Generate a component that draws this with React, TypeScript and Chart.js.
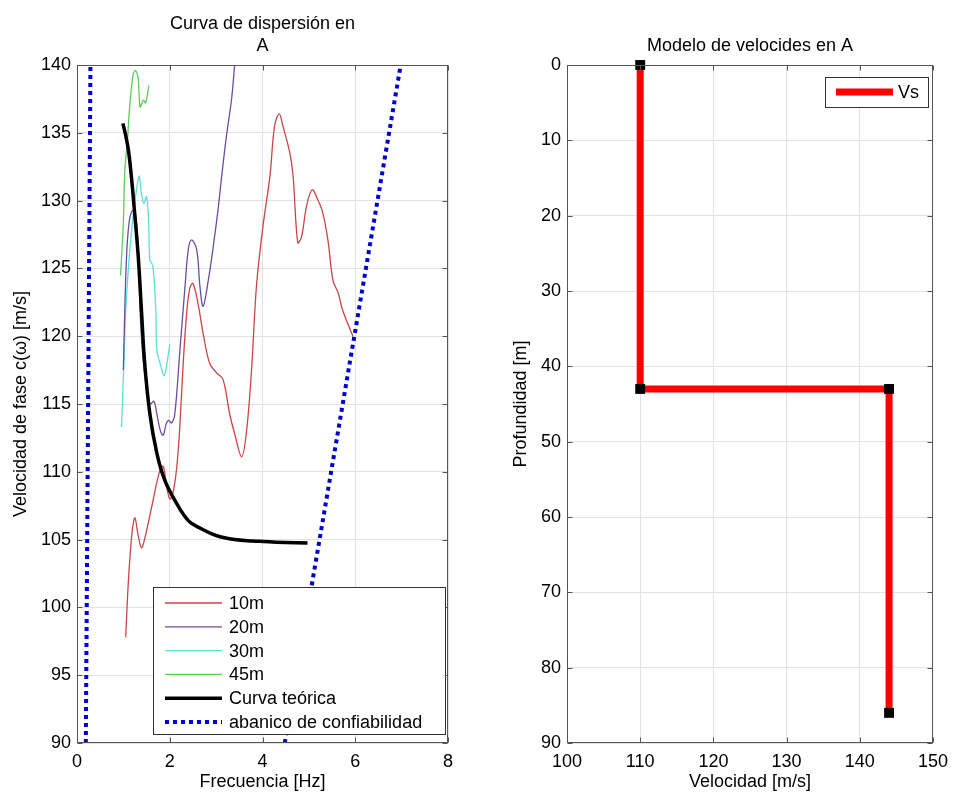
import React, { useEffect, useRef } from "react";
import { Chart, registerables } from "chart.js";

Chart.register(...registerables);

const FONT_FAMILY = '"Liberation Sans", Arial, Helvetica, sans-serif';
const FS = 18;

// ---------- Left chart: dispersion curves ----------
const freqTicks = [0, 2, 4, 6, 8];
const velTicks = [90, 95, 100, 105, 110, 115, 120, 125, 130, 135, 140];

const f10 = [1.05, 1.09, 1.14, 1.2, 1.25, 1.31, 1.39, 1.47, 1.56, 1.64, 1.72, 1.79, 1.86, 1.93, 2.0, 2.06, 2.15, 2.22, 2.29, 2.36, 2.43, 2.5, 2.61, 2.72, 2.86, 3.01, 3.15, 3.29, 3.4, 3.55, 3.65, 3.76, 3.87, 4.01, 4.16, 4.26, 4.36, 4.44, 4.59, 4.66, 4.76, 4.84, 4.95, 5.07, 5.2, 5.3, 5.41, 5.52, 5.63, 5.73, 5.95];
const c10 = [97.8, 100.8, 103.6, 105.9, 106.6, 105.5, 104.4, 105.2, 106.6, 107.9, 109.2, 110.1, 110.4, 109.0, 108.0, 108.3, 110.3, 113.5, 118.0, 121.5, 123.5, 123.9, 122.4, 120.2, 118.0, 117.3, 116.8, 114.3, 112.8, 111.1, 112.8, 117.3, 123.7, 128.1, 131.8, 135.5, 136.4, 135.5, 133.5, 131.8, 126.9, 127.3, 129.6, 130.8, 130.0, 129.1, 127.1, 124.1, 123.2, 121.9, 120.0];

const f20 = [1.0, 1.03, 1.07, 1.12, 1.18, 1.25, 1.32, 1.36, 1.42, 1.5, 1.58, 1.66, 1.72, 1.8, 1.86, 1.92, 1.97, 2.04, 2.11, 2.22, 2.33, 2.4, 2.47, 2.58, 2.65, 2.72, 2.83, 2.93, 3.04, 3.12, 3.22, 3.33, 3.4];
const c20 = [117.5, 121.9, 126.0, 128.3, 129.2, 129.3, 126.4, 121.9, 118.5, 116.2, 115.0, 115.2, 114.3, 113.0, 112.7, 113.5, 113.8, 113.6, 114.3, 119.0, 123.7, 126.4, 127.1, 126.4, 123.7, 122.2, 124.1, 126.4, 129.3, 131.8, 134.7, 137.4, 140.0];

const f30 = [0.96, 1.0, 1.03, 1.05, 1.14, 1.25, 1.34, 1.39, 1.44, 1.5, 1.54, 1.57, 1.61, 1.64, 1.7, 1.72, 1.79, 1.88, 1.95, 2.0];
const c30 = [113.3, 117.0, 120.0, 121.9, 126.4, 130.0, 131.8, 130.5, 129.8, 130.3, 128.8, 125.6, 125.4, 125.1, 121.9, 119.0, 118.0, 117.1, 118.2, 119.4];

const f45 = [0.94, 1.0, 1.03, 1.09, 1.14, 1.21, 1.26, 1.32, 1.36, 1.43, 1.48, 1.55];
const c45 = [124.5, 128.4, 132.1, 134.6, 137.1, 139.3, 139.6, 139.0, 136.9, 137.4, 137.2, 138.5];

const fTeo = [0.99, 1.05, 1.11, 1.18, 1.25, 1.32, 1.39, 1.46, 1.57, 1.72, 1.89, 2.11, 2.4, 2.68, 3.0, 3.4, 3.8, 4.3, 4.97];
const cTeo = [135.7, 134.8, 133.7, 131.5, 128.8, 125.9, 121.9, 118.0, 114.3, 111.4, 109.4, 107.9, 106.4, 105.8, 105.3, 105.0, 104.9, 104.8, 104.75];

const fConfLow = [0.19, 0.29];
const cConfLow = [90, 140];
const fConfHigh = [4.48, 6.98];
const cConfHigh = [90, 140];

// ---------- Right chart: velocity model ----------
const velModelTicks = [100, 110, 120, 130, 140, 150];
const depthTicks = [0, 10, 20, 30, 40, 50, 60, 70, 80, 90];
const vsVel = [110, 110, 144, 144];
const vsDepth = [0, 43, 43, 86];

const pts = (xs: number[], ys: number[]) => xs.map((x, i) => ({ x, y: ys[i] }));
const font = { family: FONT_FAMILY, size: FS };
const GRID = "#e3e3e3";

function framePlugin() {
  return {
    id: "matFrame",
    afterDatasetsDraw(chart: any) {
      const { ctx, chartArea: a, scales } = chart;
      ctx.save();
      ctx.strokeStyle = "#555";
      ctx.lineWidth = 1;
      const L = Math.round(a.left) + 0.5, R = Math.round(a.right) - 0.5;
      const T = Math.round(a.top) + 0.5, B = Math.round(a.bottom) - 0.5;
      ctx.strokeRect(L, T, R - L, B - T);
      const len = 5;
      ctx.beginPath();
      scales.x.ticks.forEach((t: any) => {
        const px = Math.round(scales.x.getPixelForValue(t.value)) + 0.5;
        ctx.moveTo(px, B); ctx.lineTo(px, B - len);
        ctx.moveTo(px, T); ctx.lineTo(px, T + len);
      });
      scales.y.ticks.forEach((t: any) => {
        const py = Math.round(scales.y.getPixelForValue(t.value)) + 0.5;
        ctx.moveTo(L, py); ctx.lineTo(L + len, py);
        ctx.moveTo(R, py); ctx.lineTo(R - len, py);
      });
      ctx.stroke();
      ctx.restore();
    },
  };
}

function titlePlugin(lines: string[], baselines: number[]) {
  return {
    id: "matTitle",
    afterDraw(chart: any) {
      const { ctx, chartArea: a } = chart;
      ctx.save();
      ctx.font = `${FS}px ${FONT_FAMILY}`;
      ctx.fillStyle = "#000";
      ctx.textAlign = "center";
      ctx.textBaseline = "alphabetic";
      const cx = (a.left + a.right) / 2;
      lines.forEach((l, i) => ctx.fillText(l, cx, baselines[i]));
      ctx.restore();
    },
  };
}

function legendPlugin(box: { x: number; y: number; w: number; h: number }, lineX0: number, lineX1: number, textX: number, rowY0: number, rowStep: number) {
  return {
    id: "matLegend",
    afterDraw(chart: any) {
      const { ctx } = chart;
      ctx.save();
      ctx.fillStyle = "#fff";
      ctx.fillRect(box.x, box.y, box.w, box.h);
      ctx.strokeStyle = "#333";
      ctx.lineWidth = 1;
      ctx.strokeRect(box.x + 0.5, box.y + 0.5, box.w, box.h);
      const seen: string[] = [];
      let row = 0;
      chart.data.datasets.forEach((ds: any) => {
        if (seen.includes(ds.label)) return;
        seen.push(ds.label);
        const y = rowY0 + row * rowStep;
        ctx.beginPath();
        ctx.strokeStyle = ds.borderColor;
        ctx.lineWidth = ds.borderWidth;
        ctx.setLineDash(ds.borderDash || []);
        ctx.moveTo(lineX0, y);
        ctx.lineTo(lineX1, y);
        ctx.stroke();
        ctx.setLineDash([]);
        ctx.fillStyle = "#000";
        ctx.font = `${FS}px ${FONT_FAMILY}`;
        ctx.textAlign = "left";
        ctx.textBaseline = "middle";
        ctx.fillText(ds.label, textX, y + 1);
        row++;
      });
      ctx.restore();
    },
  };
}

function DispersionChart() {
  const ref = useRef<HTMLCanvasElement>(null);
  useEffect(() => {
    const line = { showLine: true, pointRadius: 0, fill: false };
    const chart = new Chart(ref.current as HTMLCanvasElement, {
      type: "scatter",
      data: {
        datasets: [
          { ...line, label: "10m", data: pts(f10, c10), borderColor: "#c84646", borderWidth: 1.3, tension: 0.35, order: 3 },
          { ...line, label: "20m", data: pts(f20, c20), borderColor: "#6a4f9e", borderWidth: 1.3, tension: 0.35, order: 3 },
          { ...line, label: "30m", data: pts(f30, c30), borderColor: "#5cdede", borderWidth: 1.3, tension: 0.3, order: 3 },
          { ...line, label: "45m", data: pts(f45, c45), borderColor: "#5ccc5c", borderWidth: 1.3, tension: 0.3, order: 3 },
          { ...line, label: "Curva teórica", data: pts(fTeo, cTeo), borderColor: "#000", borderWidth: 3.5, tension: 0.4, order: 1 },
          { ...line, label: "abanico de confiabilidad", data: pts(fConfLow, cConfLow), borderColor: "#0000cc", borderWidth: 4, borderDash: [4, 4], borderCapStyle: "butt", order: 0 },
          { ...line, label: "abanico de confiabilidad", data: pts(fConfHigh, cConfHigh), borderColor: "#0000cc", borderWidth: 4, borderDash: [4, 4], borderCapStyle: "butt", order: 0 },
        ] as any,
      },
      options: {
        responsive: false,
        animation: false,
        events: [],
        layout: { padding: { left: 0, right: 30, top: 65, bottom: 0 } },
        plugins: { legend: { display: false }, title: { display: false }, tooltip: { enabled: false } },
        scales: {
          x: {
            type: "linear", min: 0, max: 8,
            afterBuildTicks: (s: any) => { s.ticks = freqTicks.map((v) => ({ value: v })); },
            afterFit: (s: any) => { s.height = 53; },
            grid: { color: GRID, drawTicks: false },
            border: { display: false },
            ticks: { font, color: "#000", padding: 8, autoSkip: false, maxRotation: 0 },
            title: { display: true, text: "Frecuencia [Hz]", font, color: "#000", padding: { top: 0, bottom: 3 } },
          },
          y: {
            type: "linear", min: 90, max: 140,
            afterBuildTicks: (s: any) => { s.ticks = velTicks.map((v) => ({ value: v })); },
            afterFit: (s: any) => { s.width = 77; },
            grid: { color: GRID, drawTicks: false },
            border: { display: false },
            ticks: { font, color: "#000", padding: 6, autoSkip: false },
            title: { display: true, text: "Velocidad de fase c(ω) [m/s]", font, color: "#000", padding: { top: 10, bottom: 0 } },
          },
        },
      } as any,
      plugins: [
        framePlugin(),
        titlePlugin(["Curva de dispersión en", "A"], [28.5, 50.5]),
        legendPlugin({ x: 153, y: 587, w: 292, h: 147 }, 165, 222, 229, 603, 23.8),
      ] as any,
    });
    return () => chart.destroy();
  }, []);
  return <canvas ref={ref} width={478} height={796} style={{ position: "absolute", left: 0, top: 0, width: 478, height: 796 }} />;
}

function VelocityModelChart() {
  const ref = useRef<HTMLCanvasElement>(null);
  useEffect(() => {
    const chart = new Chart(ref.current as HTMLCanvasElement, {
      type: "scatter",
      data: {
        datasets: [
          {
            label: "Vs",
            data: pts(vsVel, vsDepth),
            showLine: true,
            borderColor: "#ff0000",
            borderWidth: 7,
            borderJoinStyle: "miter",
            borderCapStyle: "butt",
            pointStyle: "rect",
            pointRadius: 7,
            pointBorderWidth: 0,
            pointBackgroundColor: "#000",
            pointBorderColor: "#000",
            clip: false,
          },
        ] as any,
      },
      options: {
        responsive: false,
        animation: false,
        events: [],
        layout: { padding: { left: 0, right: 19, top: 65, bottom: 0 } },
        plugins: { legend: { display: false }, title: { display: false }, tooltip: { enabled: false } },
        scales: {
          x: {
            type: "linear", min: 100, max: 150,
            afterBuildTicks: (s: any) => { s.ticks = velModelTicks.map((v) => ({ value: v })); },
            afterFit: (s: any) => { s.height = 53; },
            grid: { color: GRID, drawTicks: false },
            border: { display: false },
            ticks: { font, color: "#000", padding: 8, autoSkip: false, maxRotation: 0 },
            title: { display: true, text: "Velocidad [m/s]", font, color: "#000", padding: { top: 0, bottom: 3 } },
          },
          y: {
            type: "linear", min: 0, max: 90, reverse: true,
            afterBuildTicks: (s: any) => { s.ticks = depthTicks.map((v) => ({ value: v })); },
            afterFit: (s: any) => { s.width = 89; },
            grid: { color: GRID, drawTicks: false },
            border: { display: false },
            ticks: { font, color: "#000", padding: 6, autoSkip: false },
            title: { display: true, text: "Profundidad [m]", font, color: "#000", padding: { top: 32, bottom: 0 } },
          },
        },
      } as any,
      plugins: [
        framePlugin(),
        titlePlugin(["Modelo de velocides en A"], [50.5]),
        legendPlugin({ x: 347, y: 77, w: 103, h: 30 }, 358, 415, 420, 92, 24),
      ] as any,
    });
    return () => chart.destroy();
  }, []);
  return <canvas ref={ref} width={478} height={796} style={{ position: "absolute", left: 478, top: 0, width: 478, height: 796 }} />;
}

export default function App() {
  return (
    <div style={{ position: "absolute", left: 0, top: 0, width: 956, height: 796, background: "#fff", overflow: "hidden" }}>
      <DispersionChart />
      <VelocityModelChart />
    </div>
  );
}
